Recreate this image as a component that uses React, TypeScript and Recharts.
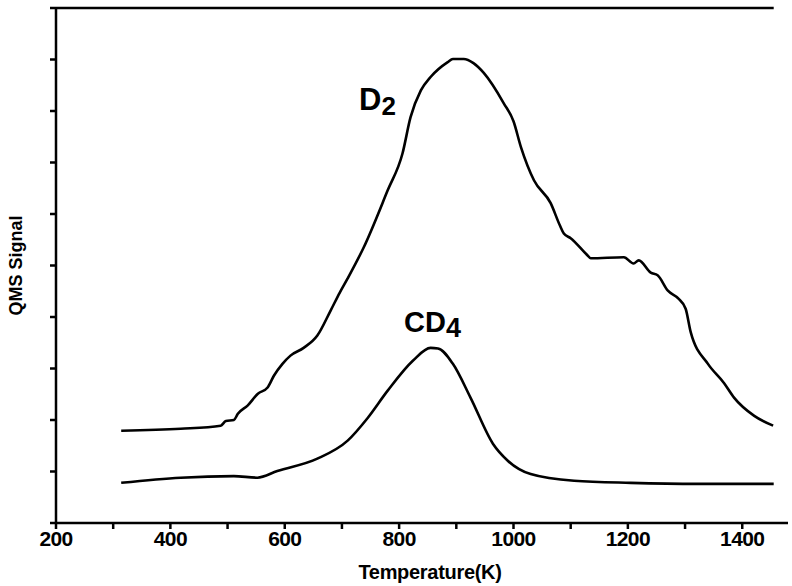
import { CartesianGrid, Line, LineChart, ReferenceLine, XAxis, YAxis } from "recharts";

// values (temperature in K, signal in arbitrary units 0..10)
const d2Temp = [
  314, 418, 488, 497, 511, 518, 535, 553, 570, 581, 596, 610, 633, 657, 680, 696,
  710, 738, 780, 806, 820, 838, 855, 885, 894, 913, 930, 948, 983, 1000, 1013,
  1036, 1065, 1081, 1088, 1100, 1130, 1135, 1193, 1210, 1219, 1240, 1252, 1270,
  1288, 1301, 1310, 1340, 1368, 1386, 1421, 1454,
];
const d2Signal = [
  1.79, 1.83, 1.89, 1.98, 2.0, 2.12, 2.28, 2.51, 2.63, 2.86, 3.09, 3.25, 3.4, 3.64,
  4.12, 4.47, 4.75, 5.35, 6.46, 7.18, 7.88, 8.4, 8.66, 8.95, 9.01, 9.01, 8.93, 8.74,
  8.15, 7.8, 7.3, 6.65, 6.21, 5.78, 5.62, 5.53, 5.19, 5.14, 5.16, 5.04, 5.1,
  4.86, 4.81, 4.51, 4.36, 4.16, 3.7, 3.09, 2.72, 2.43, 2.08, 1.89,
];

const cd4Temp = [
  314, 418, 511, 552, 587, 657, 710, 745, 780, 824, 855, 868, 894, 925, 964, 990,
  1030, 1106, 1205, 1322, 1455,
];
const cd4Signal = [
  0.78, 0.88, 0.91, 0.88, 1.01, 1.25, 1.6, 2.04, 2.57, 3.15, 3.4, 3.39, 3.09, 2.43,
  1.54, 1.21, 0.95, 0.82, 0.78, 0.76, 0.76,
];

const xTicks = [200, 300, 400, 500, 600, 700, 800, 900, 1000, 1100, 1200, 1300, 1400];
const yTicks = [0, 1, 2, 3, 4, 5, 6, 7, 8, 9, 10];

const FONT = "'Liberation Sans', Arial, Helvetica, sans-serif";

export default function App() {
  const d2 = d2Temp.map((t, i) => ({ t, v: d2Signal[i] }));
  const cd4 = cd4Temp.map((t, i) => ({ t, v: cd4Signal[i] }));

  return (
    <div style={{ position: "absolute", left: 0, top: 0, width: 792, height: 586, background: "#fff" }}>
      <LineChart width={792} height={586} margin={{ top: 8, right: 4, left: 0, bottom: 0 }}>
        <CartesianGrid stroke="none" />
        <XAxis
          dataKey="t"
          type="number"
          domain={[200, 1480]}
          ticks={xTicks}
          allowDataOverflow
          stroke="#000"
          strokeWidth={2.5}
          tickSize={6}
          height={63}
          tickFormatter={(v: number) => (v % 200 === 0 ? String(v) : "")}
          tick={{ fill: "#000", fontSize: 21, fontWeight: "bold", fontFamily: FONT, letterSpacing: -0.6 }}
          label={{
            value: "Temperature(K)",
            position: "insideBottom",
            offset: 7,
            dx: 8,
            fill: "#000",
            fontSize: 20,
            fontWeight: "bold",
            fontFamily: FONT,
            letterSpacing: -0.3,
          }}
        />
        <YAxis
          type="number"
          domain={[0, 10]}
          ticks={yTicks}
          stroke="#000"
          strokeWidth={2.5}
          tickSize={6}
          width={56}
          tickFormatter={() => ""}
          label={{
            value: "QMS Signal",
            angle: -90,
            position: "insideLeft",
            offset: 16,
            fill: "#000",
            fontSize: 18,
            fontWeight: "bold",
            fontFamily: FONT,
            style: { textAnchor: "middle" },
          }}
        />
        <ReferenceLine
          segment={[
            { x: 200, y: 10 },
            { x: 1455, y: 10 },
          ]}
          stroke="#000"
          strokeWidth={2.5}
          ifOverflow="visible"
        />
        <Line
          data={d2}
          dataKey="v"
          type="monotone"
          stroke="#000"
          strokeWidth={2.6}
          dot={false}
          isAnimationActive={false}
        />
        <Line
          data={cd4}
          dataKey="v"
          type="monotone"
          stroke="#000"
          strokeWidth={2.6}
          dot={false}
          isAnimationActive={false}
        />
      </LineChart>
      <svg width={792} height={586} style={{ position: "absolute", left: 0, top: 0, pointerEvents: "none" }}>
        <text x={359} y={110} fontSize={31} fontWeight="bold" fontFamily={FONT}>
          D
          <tspan fontSize={26} dy={5}>
            2
          </tspan>
        </text>
        <text x={404} y={332} fontSize={29} fontWeight="bold" fontFamily={FONT}>
          CD
          <tspan fontSize={27} dy={5}>
            4
          </tspan>
        </text>
      </svg>
    </div>
  );
}
